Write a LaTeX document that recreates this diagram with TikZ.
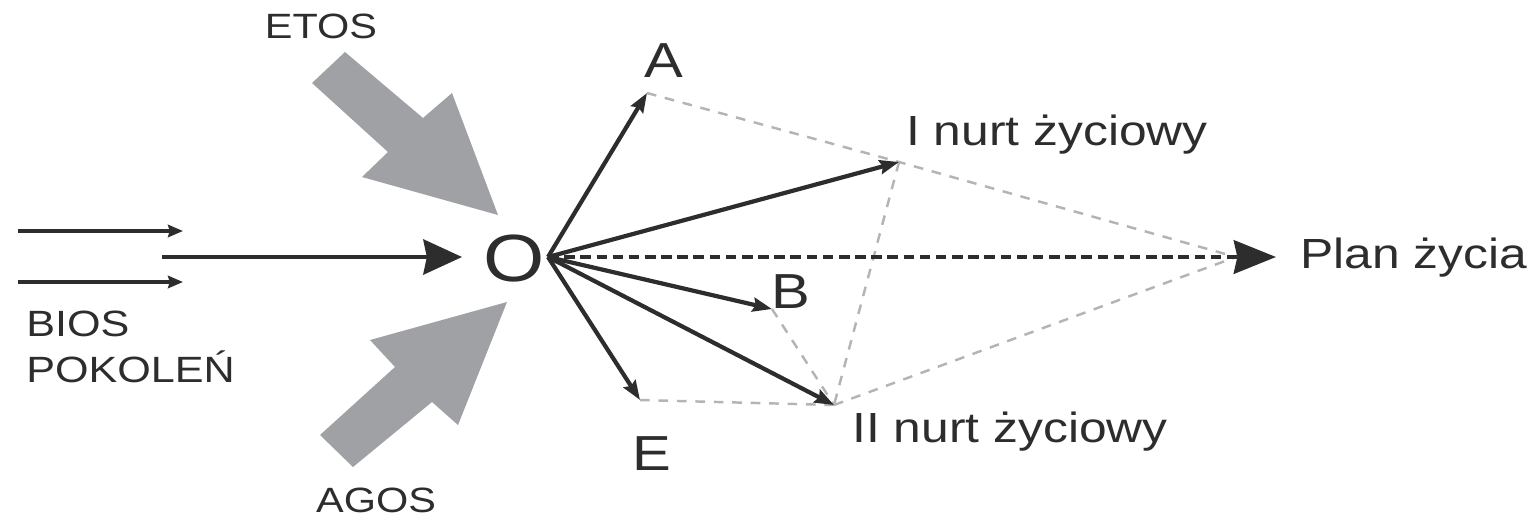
\documentclass[tikz,border=0pt]{standalone}
\usepackage{fontspec}
\setmainfont[FakeStretch=1.18]{Liberation Sans}
\usetikzlibrary{arrows.meta}
\definecolor{ink}{RGB}{45,45,45}
\definecolor{bigarrow}{RGB}{160,161,165}
\definecolor{guidecol}{RGB}{180,180,180}
\begin{document}
\begin{tikzpicture}[x=0.02cm,y=-0.02cm,
  lab/.style={inner sep=0pt, text=ink},
  small/.style={font=\fontsize{20}{26}\selectfont},
  mid/.style={font=\fontsize{24}{29}\selectfont},
  letter/.style={font=\fontsize{28}{33}\selectfont},
  ray/.style={draw=ink, line width=2.4pt, -{Stealth[length=11pt,width=8pt,inset=1.5pt]}},
  thin/.style={draw=ink, line width=2pt, -{Stealth[length=8.5pt,width=7pt,inset=1pt]}},
  main/.style={draw=ink, line width=2.2pt, -{Stealth[length=22pt,width=20pt,inset=2pt]}},
  plan/.style={draw=ink, line width=2.6pt, dash pattern=on 6pt off 3.2pt, -{Stealth[length=24pt,width=19pt,inset=2pt]}},
  guide/.style={draw=guidecol, line width=1.4pt, dash pattern=on 5.5pt off 5pt},
  big/.style={fill=bigarrow}]
\path[use as bounding box] (0,0) rectangle (1537,525);

% labels
\node[lab,small,anchor=base] (etos) at (321,38) {ETOS};
\node[lab,small,anchor=base] (agos) at (376,512) {AGOS};
\node[lab,anchor=north west,align=left,font=\fontsize{20.8}{26}\selectfont] (bios) at (26,311) {BIOS\\POKOLEŃ};
\node[lab,font=\fontsize{38}{44}\selectfont] (O) at (514,259) {O};
\node[lab,letter,anchor=base] (A) at (664,77) {A};
\node[lab,letter,anchor=base] (B) at (791,308) {B};
\node[lab,letter,anchor=base] (E) at (652,470) {E};
\node[lab,mid,anchor=base west] (n1) at (906,145) {I nurt życiowy};
\node[lab,mid,anchor=base west] (n2) at (852,442) {II nurt życiowy};
\node[lab,mid,anchor=base west] (plan) at (1300,268) {Plan życia};

% points
\coordinate (o) at (548,257);
\coordinate (pA) at (647,93);
\coordinate (pI) at (899,162);
\coordinate (pP) at (1276,257);
\coordinate (pPc) at (1236,257);
\coordinate (pB) at (772,309);
\coordinate (pII) at (834,405);
\coordinate (pE) at (640,400);
\coordinate (t1s) at (18,231);
\coordinate (t1e) at (183,231);
\coordinate (t2s) at (18,282);
\coordinate (t2e) at (183,282);
\coordinate (ms) at (162,257);
\coordinate (me) at (462,257);

% big gray arrows
\fill[big] (345,52) -- (423,118) -- (452,93) -- (498,215) -- (362,177) -- (388,152) -- (312,83) -- cycle;
\fill[big] (507,302) -- (370,340) -- (395,367) -- (320,435) -- (353,467) -- (432,402) -- (458,425) -- cycle;

% guide lines
\draw[guide] (pA) -- (pI) -- (pPc);
\draw[guide] (pI) -- (pII);
\draw[guide] (pB) -- (pII);
\draw[guide] (pE) -- (pII);
\draw[guide] (pII) -- (pPc);

% left arrows
\draw[thin] (t1s) -- (t1e);
\draw[thin] (t2s) -- (t2e);
\draw[main] (ms) -- (me);

% rays
\draw[plan] (o) -- (pP);
\draw[ray] (o) -- (pA);
\draw[ray] (o) -- (pI);
\draw[ray] (o) -- (pB);
\draw[ray] (o) -- (pII);
\draw[ray] (o) -- (pE);
\end{tikzpicture}
\end{document}
